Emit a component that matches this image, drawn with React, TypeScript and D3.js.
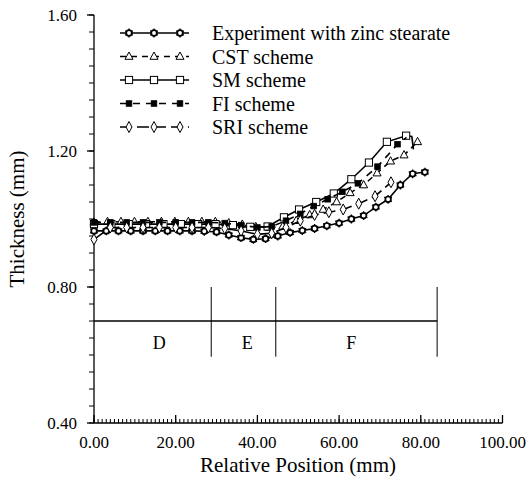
import React from "react";
import * as d3 from "d3";

const expX = [0, 3, 6, 9, 12, 15, 18, 21, 24, 27, 30, 33, 36, 39, 42, 45, 48, 51, 54, 57, 60, 63, 66, 69, 72, 75, 78, 81];
const expY = [0.965, 0.965, 0.965, 0.965, 0.965, 0.965, 0.965, 0.965, 0.965, 0.964, 0.962, 0.953, 0.945, 0.94, 0.942, 0.95, 0.96, 0.966, 0.972, 0.98, 0.988, 1.0, 1.01, 1.035, 1.058, 1.1, 1.133, 1.138];

const cstX = [0, 3.3, 6.6, 9.9, 13.2, 16.5, 19.8, 23.1, 26.4, 29.7, 33, 36.3, 39.6, 42.9, 46.2, 49.5, 52.8, 56.1, 59.4, 62.7, 66, 69.3, 72.6, 75.9, 79.2];
const cstY = [0.99, 0.992, 0.992, 0.992, 0.992, 0.992, 0.992, 0.992, 0.992, 0.992, 0.988, 0.984, 0.977, 0.975, 0.978, 0.995, 1.012, 1.028, 1.05, 1.077, 1.1, 1.135, 1.17, 1.188, 1.227];

const smX = [0, 4.25, 8.5, 12.75, 17, 21.25, 25.5, 29.75, 34, 38.25, 42.5, 46.5, 50.2, 54.4, 58.7, 63, 67.3, 71.7, 76.4, 77.8, 78.2];
const smY = [0.985, 0.985, 0.985, 0.985, 0.985, 0.985, 0.985, 0.985, 0.982, 0.977, 0.978, 1.005, 1.028, 1.05, 1.075, 1.117, 1.166, 1.227, 1.245, 1.243, 1.205];
const smMarked = [1, 1, 1, 1, 1, 1, 1, 1, 1, 1, 1, 1, 1, 1, 1, 1, 1, 1, 1, 0, 0];

const fiX = [0, 4, 8, 12, 16, 20, 24, 28, 32, 36, 40, 43.5, 47, 50.5, 53.8, 57.2, 60.8, 64.6, 69.4, 74.3, 76.5];
const fiY = [0.99, 0.99, 0.99, 0.99, 0.99, 0.99, 0.99, 0.99, 0.988, 0.982, 0.975, 0.978, 0.995, 1.015, 1.038, 1.058, 1.08, 1.105, 1.154, 1.22, 1.24];
const fiMarked = [1, 1, 1, 1, 1, 1, 1, 1, 1, 1, 1, 1, 1, 1, 1, 1, 1, 1, 1, 1, 0];

const sriX = [0, 4, 8, 12, 16, 20, 24, 28, 32, 36, 40, 43.5, 47, 50.5, 54, 57.5, 61, 64.8, 68.8, 72.7];
const sriY = [0.94, 0.975, 0.975, 0.975, 0.975, 0.975, 0.975, 0.975, 0.972, 0.965, 0.955, 0.958, 0.975, 0.995, 1.012, 1.02, 1.028, 1.045, 1.067, 1.108];

const legendLabels = ["Experiment with zinc stearate", "CST scheme", "SM scheme", "FI scheme", "SRI scheme"];

const xTicks = [0, 20, 40, 60, 80, 100];
const yTicks = [0.4, 0.8, 1.2, 1.6];

const zoneBounds = [28.7, 44.5, 84];
const zoneLabels = ["D", "E", "F"];
const zoneLabelX = [16, 37.5, 63];
const zoneLineY = 0.7;
const zoneTop = 0.8;
const zoneBottom = 0.595;

const FONT = "Liberation Serif, Times New Roman, DejaVu Serif, serif";
const TS: React.CSSProperties = { fontFamily: FONT };

type Kind = "exp" | "tri" | "sq" | "fsq" | "dia";

function Marker({ kind, x, y }: { kind: Kind; x: number; y: number }) {
  if (kind === "exp") {
    const spokes = d3.range(6).map((i) => {
      const a = (i * Math.PI) / 3 + Math.PI / 6;
      return `M${x + Math.cos(a) * 2.8},${y + Math.sin(a) * 2.8}L${x + Math.cos(a) * 4.4},${y + Math.sin(a) * 4.4}`;
    });
    return (
      <g>
        <circle cx={x} cy={y} r={2.8} fill="#fff" stroke="#000" strokeWidth={1.7} />
        <path d={spokes.join("")} stroke="#000" strokeWidth={1.3} />
      </g>
    );
  }
  if (kind === "tri") {
    return <path d={`M${x},${y - 4.5}L${x + 4},${y + 2.8}L${x - 4},${y + 2.8}Z`} fill="#fff" stroke="#000" strokeWidth={1} />;
  }
  if (kind === "sq") {
    return <rect x={x - 3.6} y={y - 3.6} width={7.2} height={7.2} fill="#fff" stroke="#000" strokeWidth={1} />;
  }
  if (kind === "fsq") {
    return <rect x={x - 2.8} y={y - 2.8} width={5.6} height={5.6} fill="#000" stroke="#000" strokeWidth={0.8} />;
  }
  return <path d={`M${x},${y - 5.5}L${x + 3},${y}L${x},${y + 5.5}L${x - 3},${y}Z`} fill="#fff" stroke="#000" strokeWidth={1} />;
}

export default function App() {
  const W = 530;
  const H = 492;
  const x = d3.scaleLinear().domain([0, 100]).range([94, 502.5]);
  const y = d3.scaleLinear().domain([0.4, 1.6]).range([423, 15]);

  const line = d3
    .line<[number, number]>()
    .x((d) => x(d[0]))
    .y((d) => y(d[1]));

  const series: { xs: number[]; ys: number[]; kind: Kind; dash?: string; marked?: number[] }[] = [
    { xs: expX, ys: expY, kind: "exp" },
    { xs: cstX, ys: cstY, kind: "tri", dash: "6,5" },
    { xs: smX, ys: smY, kind: "sq", marked: smMarked },
    { xs: fiX, ys: fiY, kind: "fsq", dash: "7,6", marked: fiMarked },
    { xs: sriX, ys: sriY, kind: "dia", dash: "12,5" },
  ];

  const xMinor = d3.range(0, 101, 1);
  const yMinor = d3.range(0.4, 1.6001, 0.05);

  const legendY = [33, 56.5, 80, 103.5, 127];

  return (
    <svg width={W} height={H} style={{ position: "absolute", left: 0, top: 0, background: "#fff", fontFamily: FONT }}>
      <rect width={W} height={H} fill="#fff" />
      <line x1={x(0)} x2={x(0)} y1={y(1.6)} y2={y(0.4)} stroke="#000" strokeWidth={1.3} />
      <line x1={x(0)} x2={x(100)} y1={y(0.4)} y2={y(0.4)} stroke="#000" strokeWidth={1.3} />
      {yMinor.map((v, i) => (
        <line key={"ym" + i} x1={x(0) - 5} x2={x(0)} y1={y(v)} y2={y(v)} stroke="#000" strokeWidth={1} />
      ))}
      {yTicks.map((v) => (
        <g key={"yt" + v}>
          <line x1={x(0) - 7} x2={x(0)} y1={y(v)} y2={y(v)} stroke="#000" strokeWidth={1.3} />
          <text x={x(0) - 17} y={y(v)} dy="0.35em" textAnchor="end" fontSize={17} style={TS}>
            {v.toFixed(2)}
          </text>
        </g>
      ))}
      {xMinor.map((v) => (
        <line key={"xm" + v} x1={x(v)} x2={x(v)} y1={y(0.4)} y2={y(0.4) - 4} stroke="#000" strokeWidth={1} />
      ))}
      {xTicks.map((v) => (
        <g key={"xt" + v}>
          <line x1={x(v)} x2={x(v)} y1={y(0.4)} y2={y(0.4) - 8} stroke="#000" strokeWidth={1.3} />
          <text x={x(v)} y={442} dy="0.35em" textAnchor="middle" fontSize={17} style={TS}>
            {v.toFixed(2)}
          </text>
        </g>
      ))}
      <text x={298} y={465} dy="0.35em" textAnchor="middle" fontSize={21} style={TS}>
        Relative Position (mm)
      </text>
      <text transform={`translate(17,219) rotate(-90)`} dy="0.35em" textAnchor="middle" fontSize={21} style={TS}>
        Thickness (mm)
      </text>

      <line x1={x(0)} x2={x(zoneBounds[2])} y1={y(zoneLineY)} y2={y(zoneLineY)} stroke="#000" strokeWidth={1.3} />
      {zoneBounds.map((b) => (
        <line key={"zb" + b} x1={x(b)} x2={x(b)} y1={y(zoneTop)} y2={y(zoneBottom)} stroke="#000" strokeWidth={1} />
      ))}
      {zoneLabels.map((l, i) => (
        <text key={l} x={x(zoneLabelX[i])} y={343} dy="0.35em" textAnchor="middle" fontSize={18} style={TS}>
          {l}
        </text>
      ))}

      {series.map((s, si) => {
        const pts: [number, number][] = s.xs.map((v, i) => [v, s.ys[i]]);
        return (
          <g key={"s" + si}>
            <path d={line(pts) || ""} fill="none" stroke="#000" strokeWidth={1.6} strokeDasharray={s.dash} />
            {pts.map((p, i) =>
              s.marked && !s.marked[i] ? null : <Marker key={i} kind={s.kind} x={x(p[0])} y={y(p[1])} />
            )}
          </g>
        );
      })}

      {series.map((s, i) => (
        <g key={"lg" + i}>
          <line x1={120} x2={189} y1={legendY[i]} y2={legendY[i]} stroke="#000" strokeWidth={1.6} strokeDasharray={s.dash} />
          {[129, 154, 180].map((mx) => (
            <Marker key={mx} kind={s.kind} x={mx} y={legendY[i]} />
          ))}
          <text x={212} y={legendY[i]} dy="0.35em" fontSize={20} style={TS}>
            {legendLabels[i]}
          </text>
        </g>
      ))}
    </svg>
  );
}
